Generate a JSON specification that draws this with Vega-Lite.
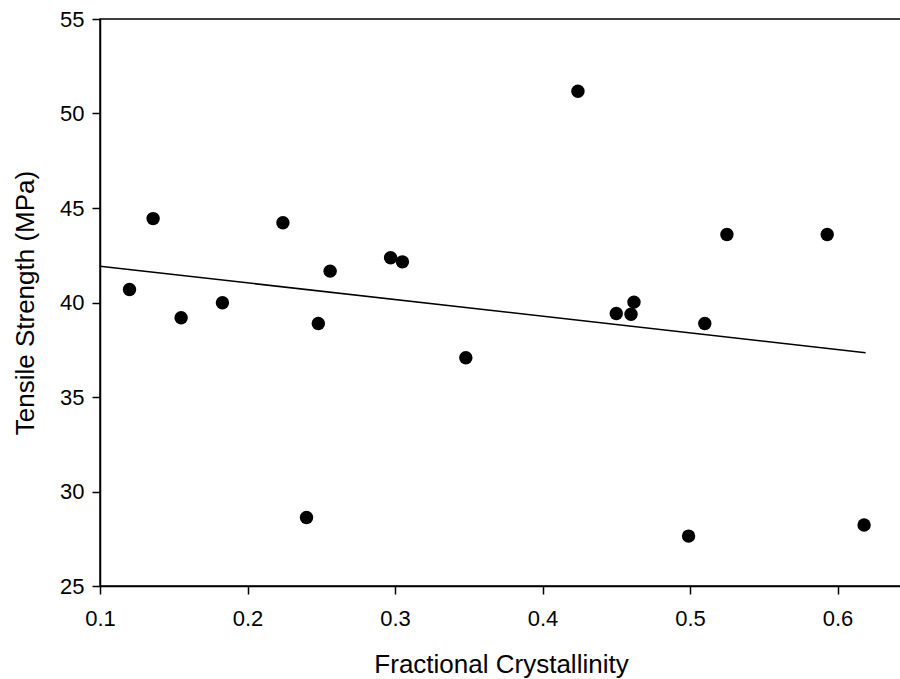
{
  "$schema": "https://vega.github.io/schema/vega-lite/v6.json",
  "autosize": {"type": "none"},
  "padding": {"left": 100, "top": 19, "right": 0, "bottom": 93},
  "width": 802,
  "height": 567,
  "background": "white",
  "config": {
    "view": {"stroke": "black", "strokeWidth": 1.5},
    "font": "Liberation Sans",
    "axis": {
      "domainColor": "black",
      "domainWidth": 1.5,
      "tickColor": "black",
      "tickWidth": 1.5,
      "tickSize": 8,
      "labelColor": "black",
      "titleColor": "black",
      "labelFont": "Liberation Sans",
      "titleFont": "Liberation Sans",
      "labelFontSize": 22,
      "titleFontSize": 26,
      "titleFontWeight": "normal",
      "labelFlush": false,
      "labelOverlap": false,
      "grid": false
    }
  },
  "datasets": {
    "points": [
      {"crystallinity": 0.120, "strength": 40.69},
      {"crystallinity": 0.136, "strength": 44.44},
      {"crystallinity": 0.155, "strength": 39.19},
      {"crystallinity": 0.183, "strength": 39.99},
      {"crystallinity": 0.224, "strength": 44.22},
      {"crystallinity": 0.240, "strength": 28.62},
      {"crystallinity": 0.248, "strength": 38.89},
      {"crystallinity": 0.256, "strength": 41.66},
      {"crystallinity": 0.297, "strength": 42.37},
      {"crystallinity": 0.305, "strength": 42.15},
      {"crystallinity": 0.348, "strength": 37.08},
      {"crystallinity": 0.424, "strength": 51.18},
      {"crystallinity": 0.450, "strength": 39.42},
      {"crystallinity": 0.460, "strength": 39.38},
      {"crystallinity": 0.462, "strength": 40.02},
      {"crystallinity": 0.499, "strength": 27.64},
      {"crystallinity": 0.510, "strength": 38.89},
      {"crystallinity": 0.525, "strength": 43.60},
      {"crystallinity": 0.593, "strength": 43.60},
      {"crystallinity": 0.618, "strength": 28.23}
    ],
    "fit": [
      {"crystallinity": 0.100, "strength": 41.92},
      {"crystallinity": 0.619, "strength": 37.34}
    ]
  },
  "layer": [
    {
      "data": {"name": "fit"},
      "mark": {"type": "line", "color": "black", "strokeWidth": 1.5},
      "encoding": {
        "x": {
          "field": "crystallinity",
          "type": "quantitative",
          "scale": {"domain": [0.1, 0.6437], "nice": false, "zero": false},
          "axis": {
            "title": "Fractional Crystallinity",
            "values": [0.1, 0.2, 0.3, 0.4, 0.5, 0.6],
            "format": ".1f",
            "labelPadding": 14,
            "titlePadding": 22
          }
        },
        "y": {
          "field": "strength",
          "type": "quantitative",
          "scale": {"domain": [25, 55], "nice": false, "zero": false},
          "axis": {
            "title": "Tensile Strength (MPa)",
            "values": [25, 30, 35, 40, 45, 50, 55],
            "labelPadding": 8,
            "titlePadding": 21
          }
        }
      }
    },
    {
      "data": {"name": "points"},
      "mark": {"type": "circle", "color": "black", "opacity": 1, "size": 180},
      "encoding": {
        "x": {"field": "crystallinity", "type": "quantitative"},
        "y": {"field": "strength", "type": "quantitative"}
      }
    }
  ]
}
